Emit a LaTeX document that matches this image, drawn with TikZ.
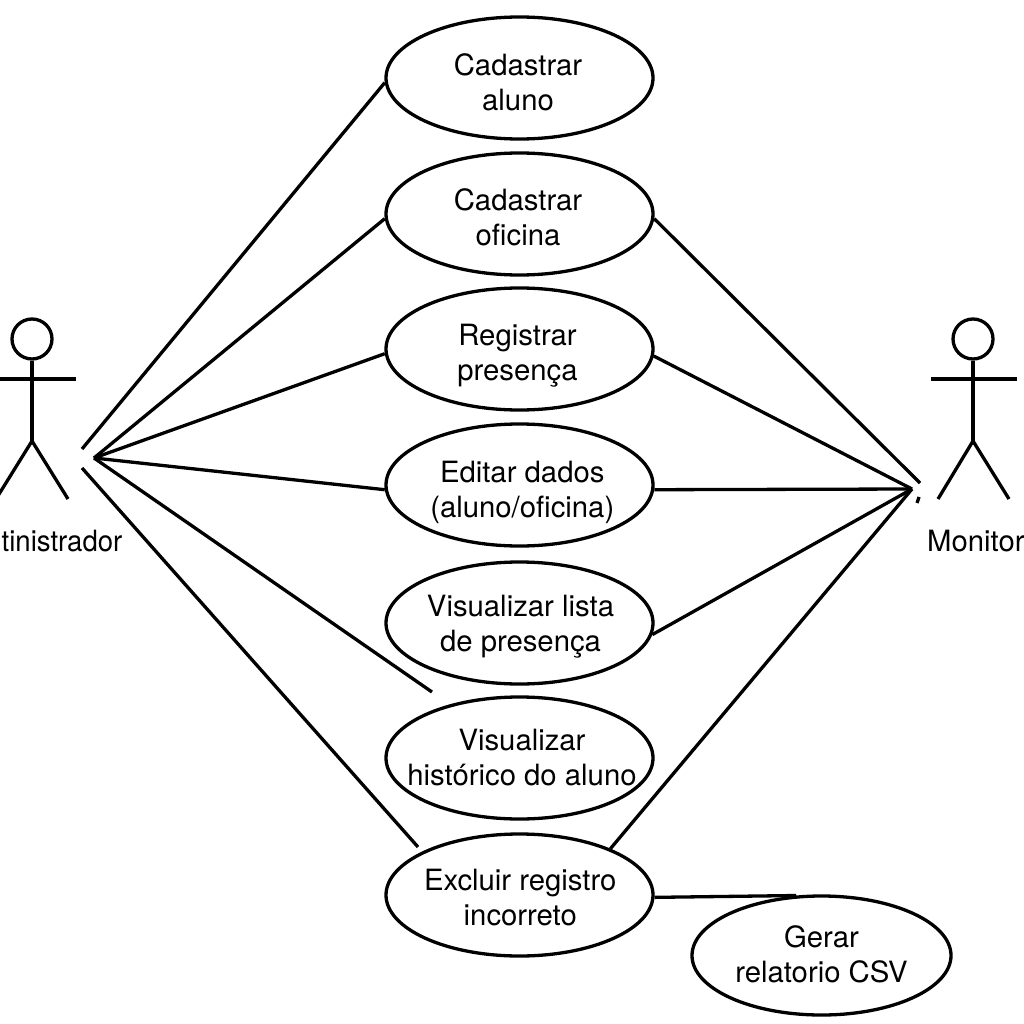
\documentclass[tikz,border=0pt]{standalone}
\usepackage{fontspec}
\setmainfont{TeX Gyre Heros}
\usetikzlibrary{shapes.geometric}
\newcommand{\casetext}[4]{\makebox[0pt]{\hspace*{#1pt}\raisebox{#2pt}[0pt][0pt]{\makebox[0pt]{\begin{tabular}{@{}c@{}}#3\\#4\end{tabular}}}}}
\tikzset{
  usecase/.style={draw=black,fill=white,line width=3.3pt,ellipse,inner sep=0pt,minimum width=267pt,minimum height=122pt,font=\fontsize{29.3}{35}\selectfont},
  link/.style={draw=black,line width=3.3pt},
  figure/.style={draw=black,line width=3.3pt},
  lbl/.style={inner sep=0pt,font=\fontsize{29.3}{35}\selectfont},
  head/.style={draw=black,line width=3.3pt,circle,inner sep=0pt,minimum size=40pt}
}
\begin{document}
\begin{tikzpicture}[x=1pt,y=-1pt]
\useasboundingbox (0,0) rectangle (1024,1024);
\clip (0,0) rectangle (1024,1024);
\fill[white] (0,0) rectangle (1024,1024);
\coordinate (hubA) at (94,458);
\coordinate (hubB) at (912,489);
\coordinate (endA1) at (82,449);
\coordinate (endA7) at (82,468);
\coordinate (endB2) at (920,483);
\coordinate (endU6) at (432,692);
\coordinate (endU7) at (418,847);
\coordinate (tickA) at (919,497);
\coordinate (tickB) at (917,503);
% use cases
\node[usecase] (u1) at (519.5,78) {\casetext{-3}{-14}{Cadastrar}{aluno}};
\node[usecase] (u2) at (519.5,214) {\casetext{-3}{-13}{Cadastrar}{oficina}};
\node[usecase] (u3) at (519.5,349) {\casetext{-4}{-13}{Registrar}{presença}};
\node[usecase] (u4) at (519.5,485) {\casetext{5.5}{-14}{Editar dados}{(aluno/oficina)}};
\node[usecase] (u5) at (519.5,623) {\casetext{2}{-10}{Visualizar lista}{de presença}};
\node[usecase] (u6) at (519.5,758) {\casetext{5}{-9}{Visualizar}{histórico do aluno}};
\node[usecase] (u7) at (519.5,895) {\casetext{1.5}{-12}{Excluir registro}{incorreto}};
\node[usecase,minimum width=259pt,minimum height=119pt] (u8) at (821.5,955.5) {\casetext{0}{-9}{Gerar}{relatorio CSV}};
% left links
\draw[link] (endA1) -- (u1.182);
\draw[link] (hubA) -- (u2.182);
\draw[link] (hubA) -- (u3.182);
\draw[link] (hubA) -- (u4.182);
\draw[link] (hubA) -- (endU6);
\draw[link] (endA7) -- (endU7);
% right links
\draw[link] (u2.-2) -- (endB2);
\draw[link] (u3.-3) -- (hubB);
\draw[link] (u4.-2) -- (hubB);
\draw[link] (u5.-5) -- (hubB);
\draw[link] (u7.27) -- (hubB);
\draw[link] (u7.-1.5) -- (u8.113);
\draw[link] (tickA) -- (tickB);
% actor left
\node[head] (headA) at (32,339) {};
\coordinate (neckA) at (32,441);
\draw[figure] (headA.south) -- (neckA);
\draw[figure] (-10,379) -- (76,379);
\draw[figure] (neckA) -- (-4,499);
\draw[figure] (neckA) -- (68,499);
\node[lbl,anchor=base east] (labA) at (122.5,551) {\scalebox{0.94}[1]{tinistrador}};
% actor right
\node[head] (headB) at (973,339) {};
\coordinate (neckB) at (973,441);
\draw[figure] (headB.south) -- (neckB);
\draw[figure] (931,379) -- (1017,379);
\draw[figure] (neckB) -- (938,499);
\draw[figure] (neckB) -- (1009,499);
\node[lbl,anchor=base west] (labB) at (927,551) {Monitor};
\end{tikzpicture}
\end{document}
